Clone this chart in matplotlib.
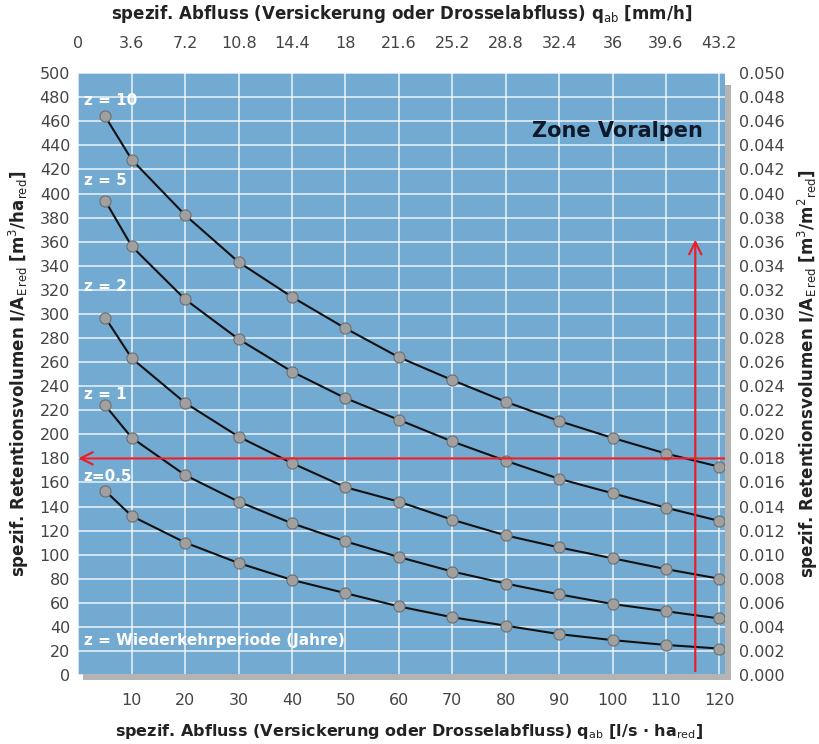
import matplotlib.pyplot as plt
import matplotlib.patches as patches

# abscissa: spezif. Abfluss in l/s*ha_red
q = [5, 10, 20, 30, 40, 50, 60, 70, 80, 90, 100, 110, 120]

# retention volume in m3/ha_red, one list per return period
v_z10 = [464, 428, 382, 343, 314, 288, 264, 245, 227, 211, 197, 184, 173]
v_z5 = [394, 356, 312, 279, 252, 230, 212, 194, 178, 163, 151, 139, 128]
v_z2 = [297, 263, 226, 198, 176, 156, 144, 129, 116, 106, 97, 88, 80]
v_z1 = [224, 197, 166, 144, 126, 111, 98, 86, 76, 67, 59, 53, 47]
v_z05 = [153, 132, 110, 93, 79, 68, 57, 48, 41, 34, 29, 25, 22]

curves = [v_z10, v_z5, v_z2, v_z1, v_z05]
curve_labels = ['z = 10', 'z = 5', 'z = 2', 'z = 1', 'z=0.5']
label_y = [477, 411, 323, 233, 165]

bottom_ticks = [10, 20, 30, 40, 50, 60, 70, 80, 90, 100, 110, 120]
top_ticks = [0, 10, 20, 30, 40, 50, 60, 70, 80, 90, 100, 110, 120]
top_labels = ['0', '3.6', '7.2', '10.8', '14.4', '18', '21.6', '25.2',
              '28.8', '32.4', '36', '39.6', '43.2']
left_ticks = list(range(0, 501, 20))
right_labels = [f'{v / 10000:.3f}' for v in left_ticks]

# example reading (red lines)
read_q = 115.5
read_v = 180

bg = '#72aad2'
txt = '#444444'
lab = '#222222'

fig = plt.figure(figsize=(8.19, 7.44), dpi=100)
ax = fig.add_axes([0.0958, 0.0927, 0.789, 0.809])

# drop shadow right/bottom
fig.patches.append(patches.Rectangle((0.885, 0.086), 0.008, 0.80, transform=fig.transFigure,
                                     facecolor='#b4b4b4', edgecolor='none', zorder=0))
fig.patches.append(patches.Rectangle((0.101, 0.086), 0.792, 0.008, transform=fig.transFigure,
                                     facecolor='#b4b4b4', edgecolor='none', zorder=0))

ax.set_facecolor(bg)
ax.set_xlim(0, 121)
ax.set_ylim(0, 500)
ax.set_xticks(range(0, 121, 10))
ax.set_xticklabels([''] + [str(t) for t in bottom_ticks])
ax.set_yticks(left_ticks)
ax.set_yticklabels([str(t) for t in left_ticks])
ax.grid(True, color='white', lw=1.1, alpha=0.85)
ax.set_axisbelow(True)
for s in ax.spines.values():
    s.set_visible(False)
ax.tick_params(length=0, labelsize=11.5, labelcolor=txt)
ax.tick_params(axis='x', pad=13)
ax.tick_params(axis='y', pad=6)

for vals in curves:
    ax.plot(q, vals, color='#111111', lw=1.5, zorder=3)
    ax.plot(q, vals, 'o', ms=8, mfc='#a0a0a0', mec='#6e6e6e', mew=0.8, zorder=4,
            clip_on=False)

for lb, ly in zip(curve_labels, label_y):
    ax.text(1.0, ly, lb, color='white', fontsize=11, fontweight='bold', va='center')
ax.text(1.0, 29, 'z = Wiederkehrperiode (Jahre)', color='white', fontsize=11,
        fontweight='bold', va='center')

ax.text(85, 452, 'Zone Voralpen', color='#0e1a2a', fontsize=15, fontweight='bold',
        va='center')

# red reading lines
ax.annotate('', xy=(-0.6, read_v), xytext=(122.5, read_v),
            arrowprops=dict(arrowstyle='->', color='#e8202a', lw=1.6,
                            mutation_scale=22), annotation_clip=False, zorder=5)
ax.annotate('', xy=(read_q, 364), xytext=(read_q, 1),
            arrowprops=dict(arrowstyle='->', color='#e8202a', lw=1.6,
                            mutation_scale=22), annotation_clip=False, zorder=5)

fig.text(0.5, 0.004, 'spezif. Abfluss (Versickerung oder Drosselabfluss) q$_{\\mathrm{ab}}$ '
         '[l/s · ha$_{\\mathrm{red}}$]', fontsize=11.5, fontweight='bold', color=lab,
         ha='center', va='bottom')
ax.set_ylabel('spezif. Retentionsvolumen I/A$_{\\mathrm{E\\,red}}$ '
              '[m$^3$/ha$_{\\mathrm{red}}$]', fontsize=12, fontweight='bold',
              color=lab, labelpad=6)

# top axis in mm/h
axt = ax.twiny()
axt.set_xlim(ax.get_xlim())
axt.set_xticks(top_ticks)
axt.set_xticklabels(top_labels)
axt.tick_params(length=0, labelsize=11.5, labelcolor=txt, pad=16)
axt.set_xlabel('spezif. Abfluss (Versickerung oder Drosselabfluss) q$_{\\mathrm{ab}}$ [mm/h]',
               fontsize=12, fontweight='bold', color=lab, labelpad=12)
for s in axt.spines.values():
    s.set_visible(False)

# right axis in m3/m2
axr = ax.twinx()
axr.set_ylim(ax.get_ylim())
axr.set_yticks(left_ticks)
axr.set_yticklabels(right_labels)
axr.tick_params(length=0, labelsize=11.5, labelcolor=txt, pad=10)
axr.set_ylabel('spezif. Retentionsvolumen I/A$_{\\mathrm{E\\,red}}$ '
               '[m$^3$/m$^2$$_{\\mathrm{red}}$]', fontsize=12, fontweight='bold',
               color=lab, labelpad=8)
for s in axr.spines.values():
    s.set_visible(False)

fig.savefig('out.png', dpi=100)
